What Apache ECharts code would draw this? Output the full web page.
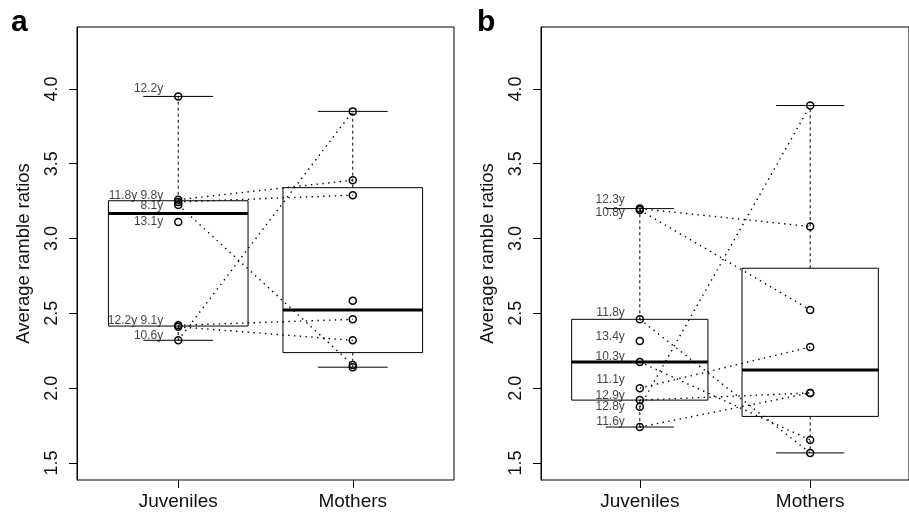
<!DOCTYPE html>
<html>
<head>
<meta charset="utf-8">
<script src="https://cdn.jsdelivr.net/npm/echarts@6/dist/echarts.min.js"></script>
<style>html,body{margin:0;padding:0;background:#fff}#c{width:909px;height:514px}</style>
</head>
<body>
<div id="c"></div>
<script>
// ---- data ----
const categories = ['Juveniles', 'Mothers'];
const yTicks = [1.5, 2.0, 2.5, 3.0, 3.5, 4.0];

// panel a
const juvA = [3.95, 3.26, 3.245, 3.225, 3.11, 2.42, 2.41, 2.32];
const momA = [3.85, 3.39, 3.29, 2.585, 2.46, 2.32, 2.155, 2.14];
const pairsA = [[1, 1], [2, 2], [3, 6], [7, 0], [5, 4], [6, 5]]; // [juvenile idx, mother idx]
const labelTextA = ['12.2y', '11.8y 9.8y', '8.1y', '13.1y', '12.2y 9.1y', '10.6y'];
const labelYA = [4.00, 3.285, 3.218, 3.11, 2.45, 2.35];

// panel b
const juvB = [3.20, 3.19, 2.46, 2.315, 2.175, 2.00, 1.92, 1.875, 1.74];
const momB = [3.889, 3.08, 2.523, 2.275, 1.968, 1.968, 1.654, 1.567];
const pairsB = [[0, 1], [1, 2], [2, 7], [4, 6], [5, 3], [6, 4], [7, 0], [8, 5]];
const labelTextB = ['12.3y', '10.8y', '11.8y', '13.4y', '10.3y', '11.1y', '12.9y', '12.8y', '11.6y'];
const labelYB = [3.258, 3.171, 2.503, 2.342, 2.209, 2.055, 1.948, 1.874, 1.774];

// ---- stats (R boxplot style: Tukey hinges, 1.5 IQR whiskers) ----
function median(s) { const n = s.length, m = Math.floor(n / 2); return n % 2 ? s[m] : (s[m - 1] + s[m]) / 2; }
function boxStats(arr) {
  const s = arr.slice().sort((a, b) => a - b);
  const n = s.length;
  const med = median(s);
  const h = Math.floor((n + 1) / 2);
  const lowHalf = s.slice(0, h), upHalf = s.slice(n - h);
  const q1 = median(lowHalf), q3 = median(upHalf);
  const iqr = q3 - q1;
  const lo = s.filter(v => v >= q1 - 1.5 * iqr)[0];
  const hiArr = s.filter(v => v <= q3 + 1.5 * iqr);
  const hi = hiArr[hiArr.length - 1];
  return [lo, q1, med, q3, hi];
}

const FONT = 'Liberation Sans, Arial, Helvetica, sans-serif';
const INK = '#000';

function renderBox(params, api) {
  const x = api.value(0);
  const mn = api.value(1), q1 = api.value(2), md = api.value(3), q3 = api.value(4), mx = api.value(5);
  const tl = api.coord([x - 0.4, q3]);
  const br = api.coord([x + 0.4, q1]);
  const mL = api.coord([x - 0.4, md]);
  const mR = api.coord([x + 0.4, md]);
  const c = api.coord([x, q3]);
  const cMax = api.coord([x, mx]);
  const cQ1 = api.coord([x, q1]);
  const cMin = api.coord([x, mn]);
  const capL = api.coord([x - 0.2, mx])[0];
  const capR = api.coord([x + 0.2, mx])[0];
  const thin = { stroke: INK, lineWidth: 1, fill: null };
  return {
    type: 'group',
    children: [
      { type: 'line', shape: { x1: c[0], y1: c[1], x2: cMax[0], y2: cMax[1] }, style: { stroke: INK, lineWidth: 1, lineDash: [3, 3] } },
      { type: 'line', shape: { x1: cQ1[0], y1: cQ1[1], x2: cMin[0], y2: cMin[1] }, style: { stroke: INK, lineWidth: 1, lineDash: [3, 3] } },
      { type: 'line', shape: { x1: capL, y1: cMax[1], x2: capR, y2: cMax[1] }, style: thin },
      { type: 'line', shape: { x1: capL, y1: cMin[1], x2: capR, y2: cMin[1] }, style: thin },
      { type: 'rect', shape: { x: tl[0], y: tl[1], width: br[0] - tl[0], height: br[1] - tl[1] }, style: thin },
      { type: 'line', shape: { x1: mL[0], y1: mL[1], x2: mR[0], y2: mR[1] }, style: { stroke: INK, lineWidth: 3 } }
    ]
  };
}

function panelSeries(idx, juv, mom, pairs, lblText, lblY) {
  const boxData = [[1].concat(boxStats(juv)), [2].concat(boxStats(mom))];
  const pts = juv.map(v => [1, v]).concat(mom.map(v => [2, v]));
  return [
    { type: 'custom', xAxisIndex: idx, yAxisIndex: idx, renderItem: renderBox, data: boxData, silent: true, z: 1 },
    {
      type: 'lines', coordinateSystem: 'cartesian2d', xAxisIndex: idx, yAxisIndex: idx, silent: true, z: 2,
      lineStyle: { color: INK, width: 1.4, type: [1.4, 4.4], opacity: 1, curveness: 0 },
      data: pairs.map(p => ({ coords: [[1, juv[p[0]]], [2, mom[p[1]]]] }))
    },
    {
      type: 'scatter', xAxisIndex: idx, yAxisIndex: idx, silent: true, z: 3,
      symbol: 'circle', symbolSize: 7,
      itemStyle: { color: 'rgba(0,0,0,0)', borderColor: INK, borderWidth: 1.5, opacity: 1 },
      data: pts
    },
    {
      type: 'scatter', xAxisIndex: idx, yAxisIndex: idx, silent: true, z: 4,
      symbolSize: 0,
      data: lblText.map((t, i) => ({ value: [1, lblY[i]], name: t })),
      label: { show: true, position: 'left', distance: 15, formatter: p => p.name, fontSize: 12, color: '#111', fontFamily: FONT }
    }
  ];
}

function xAxis(idx) {
  return {
    type: 'value', gridIndex: idx, min: 0.42, max: 2.58,
    axisLine: { show: false },
    axisTick: { show: true, length: 8, customValues: [1, 2], lineStyle: { color: INK } },
    axisLabel: { customValues: [1, 2], formatter: v => categories[Math.round(v) - 1], fontSize: 19, color: '#111', fontFamily: FONT, margin: 12 },
    splitLine: { show: false }
  };
}
function yAxis(idx) {
  return {
    type: 'value', gridIndex: idx, min: 1.386, max: 4.414,
    axisLine: { show: true, lineStyle: { color: INK } },
    axisTick: { show: true, length: 8, customValues: yTicks, lineStyle: { color: INK } },
    axisLabel: { customValues: yTicks, rotate: 90, formatter: v => v.toFixed(1), fontSize: 18, color: '#111', fontFamily: FONT, margin: 16 },
    splitLine: { show: false },
    name: 'Average ramble ratios', nameLocation: 'middle', nameGap: 44,
    nameTextStyle: { fontSize: 18.5, color: '#111', fontFamily: FONT }
  };
}

const chart = echarts.init(document.getElementById('c'), null, { renderer: 'canvas' });
chart.setOption({
  animation: false,
  backgroundColor: '#fff',
  title: [
    { text: 'a', left: 11, top: 8, padding: 0, textStyle: { fontSize: 30, fontWeight: 'bold', color: '#000', fontFamily: FONT } },
    { text: 'b', left: 477, top: 8, padding: 0, textStyle: { fontSize: 30, fontWeight: 'bold', color: '#000', fontFamily: FONT } }
  ],
  grid: [
    { left: 77, top: 27, width: 377, height: 453, show: true, borderColor: INK, borderWidth: 1, backgroundColor: 'transparent' },
    { left: 541, top: 27, width: 377, height: 453, show: true, borderColor: INK, borderWidth: 1, backgroundColor: 'transparent' }
  ],
  xAxis: [xAxis(0), xAxis(1)],
  yAxis: [yAxis(0), yAxis(1)],
  series: panelSeries(0, juvA, momA, pairsA, labelTextA, labelYA)
    .concat(panelSeries(1, juvB, momB, pairsB, labelTextB, labelYB))
});
</script>
</body>
</html>
